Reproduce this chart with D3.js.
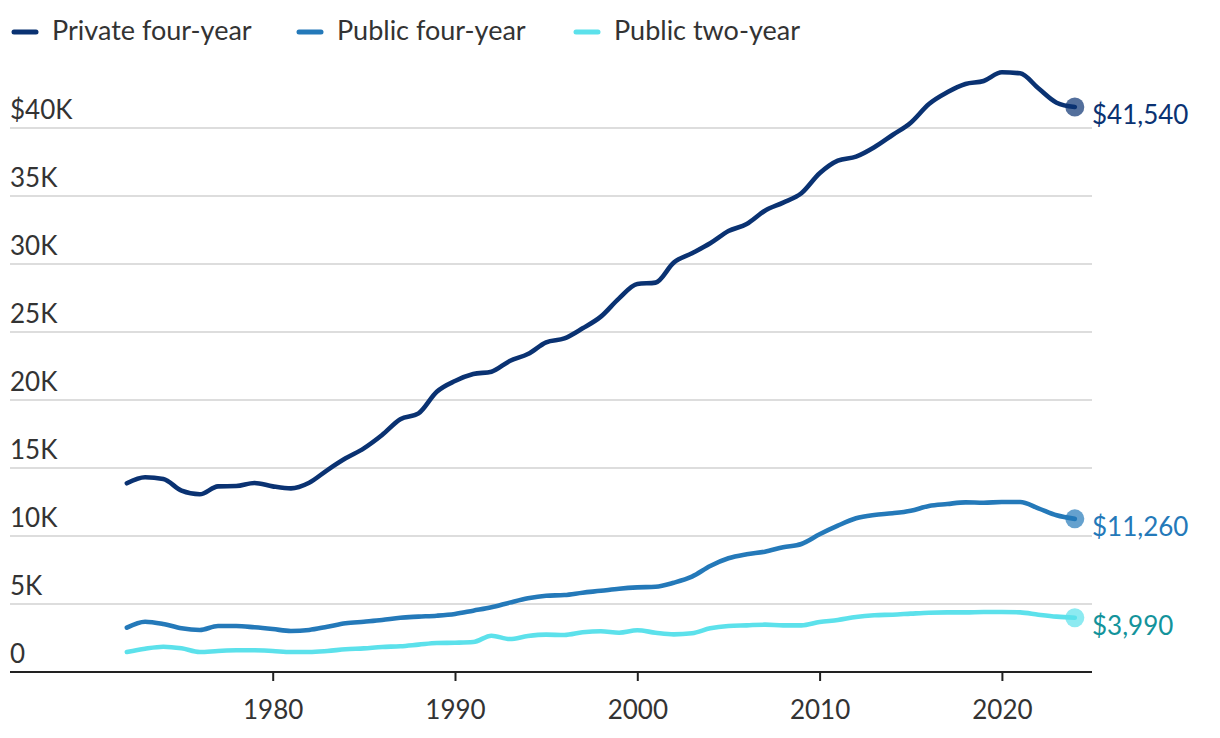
<!DOCTYPE html>
<html>
<head>
<meta charset="utf-8">
<script src="https://cdn.jsdelivr.net/npm/d3@7"></script>
<style>
  html, body { margin: 0; padding: 0; background: #fff; }
  svg { display: block; font-family: Lato, "Open Sans", sans-serif; }
</style>
</head>
<body>
<svg id="chart" width="1220" height="738"></svg>
<script>
// ---- Data ----
const years = d3.range(1972, 2025);
const privateFour = [13875, 14315, 14190, 13330, 13065, 13650, 13675, 13900, 13650, 13500,
  13920, 14850, 15710, 16445, 17425, 18580, 19020, 20610, 21400, 21910,
  22080, 22870, 23380, 24240, 24530, 25270, 26130, 27475, 28530, 28630,
  30100, 30785, 31520, 32420, 32940, 33920, 34510, 35200, 36670, 37600,
  37890, 38580, 39485, 40390, 41765, 42625, 43235, 43460, 44095, 44020,
  42920, 41860, 41540];
const publicFour = [3260, 3700, 3530, 3210, 3090, 3380, 3380, 3285, 3160, 3015,
  3090, 3330, 3580, 3700, 3825, 3990, 4070, 4140, 4265, 4510,
  4755, 5100, 5420, 5610, 5660, 5830, 5970, 6125, 6225, 6270,
  6565, 7010, 7795, 8360, 8655, 8850, 9170, 9410, 10125, 10760,
  11300, 11545, 11670, 11860, 12205, 12350, 12475, 12450, 12500, 12500,
  12035, 11520, 11260];
const publicTwo = [1470, 1715, 1860, 1740, 1470, 1545, 1595, 1595, 1545, 1470,
  1470, 1545, 1670, 1740, 1840, 1890, 2010, 2130, 2155, 2205,
  2670, 2425, 2645, 2745, 2720, 2920, 3000, 2890, 3065, 2890,
  2770, 2845, 3210, 3380, 3430, 3480, 3430, 3430, 3675, 3825,
  4045, 4170, 4215, 4290, 4360, 4385, 4385, 4410, 4410, 4385,
  4215, 4070, 3990];
const seriesNames = ["Private four-year", "Public four-year", "Public two-year"];
const endLabels = ["$41,540", "$11,260", "$3,990"];
const yTickValues = [0, 5000, 10000, 15000, 20000, 25000, 30000, 35000, 40000];
const yTickLabels = ["0", "5K", "10K", "15K", "20K", "25K", "30K", "35K", "$40K"];
const xTickValues = [1980, 1990, 2000, 2010, 2020];

// ---- Styles ----
const lineColors = ["#0a3272", "#2479b9", "#5ce1eb"];
const labelColors = ["#0a3272", "#2479b9", "#13939b"];
const textColor = "#333333";
const fs = 26;

const svg = d3.select("#chart");
const left = 10, right = 1092;
const x = d3.scaleLinear().domain([1980, 2020]).range([272.7, 1001.9]);
const y = d3.scaleLinear().domain([0, 40000]).range([672, 128]);

// Gridlines + y labels
const grid = svg.append("g");
yTickValues.forEach((v, i) => {
  if (v !== 0) {
    grid.append("line")
      .attr("x1", left).attr("x2", right)
      .attr("y1", y(v)).attr("y2", y(v))
      .attr("stroke", "#d2d2d2").attr("stroke-width", 1.5);
  }
  grid.append("text")
    .attr("x", left).attr("y", y(v) - 9)
    .attr("fill", textColor)
    .attr("font-size", fs)
    .text(yTickLabels[i]);
});

// X axis
const xAxis = d3.axisBottom(x).tickValues(xTickValues).tickFormat(d3.format("d"))
  .tickSize(9).tickPadding(20);
const gx = svg.append("g").attr("transform", `translate(0,${y(0)})`).call(xAxis);
gx.select(".domain").remove();
gx.selectAll(".tick line").attr("stroke", "#222").attr("stroke-width", 2);
gx.selectAll(".tick text").attr("fill", textColor).attr("font-size", fs)
  .attr("font-family", "Lato, 'Open Sans', sans-serif");
svg.append("line").attr("x1", left).attr("x2", right)
  .attr("y1", y(0)).attr("y2", y(0)).attr("stroke", "#222").attr("stroke-width", 2);

// Lines
const allSeries = [privateFour, publicFour, publicTwo];
const line = d3.line().x((d, i) => x(years[i])).y(d => y(d)).curve(d3.curveMonotoneX);
[2, 1, 0].forEach(s => {
  svg.append("path")
    .datum(allSeries[s])
    .attr("d", line)
    .attr("fill", "none")
    .attr("stroke", lineColors[s])
    .attr("stroke-width", 4.6)
    .attr("stroke-linejoin", "round")
    .attr("stroke-linecap", "round");
});

// End dots and labels
allSeries.forEach((data, s) => {
  const lastYear = years[years.length - 1];
  const lastVal = data[data.length - 1];
  svg.append("circle")
    .attr("cx", x(lastYear)).attr("cy", y(lastVal)).attr("r", 9.5)
    .attr("fill", lineColors[s]).attr("fill-opacity", 0.7);
  svg.append("text")
    .attr("x", 1092).attr("y", y(lastVal) + 17)
    .attr("fill", labelColors[s])
    .attr("font-size", fs)
    .text(endLabels[s]);
});

// Legend
const legendX = [12, 297, 574];
const legend = svg.append("g");
seriesNames.forEach((name, s) => {
  legend.append("line")
    .attr("x1", legendX[s] + 2).attr("x2", legendX[s] + 24)
    .attr("y1", 32).attr("y2", 32)
    .attr("stroke", lineColors[s]).attr("stroke-width", 5)
    .attr("stroke-linecap", "round");
  legend.append("text")
    .attr("x", legendX[s] + 40).attr("y", 40)
    .attr("fill", textColor).attr("font-size", 27)
    .text(name);
});
</script>
</body>
</html>
